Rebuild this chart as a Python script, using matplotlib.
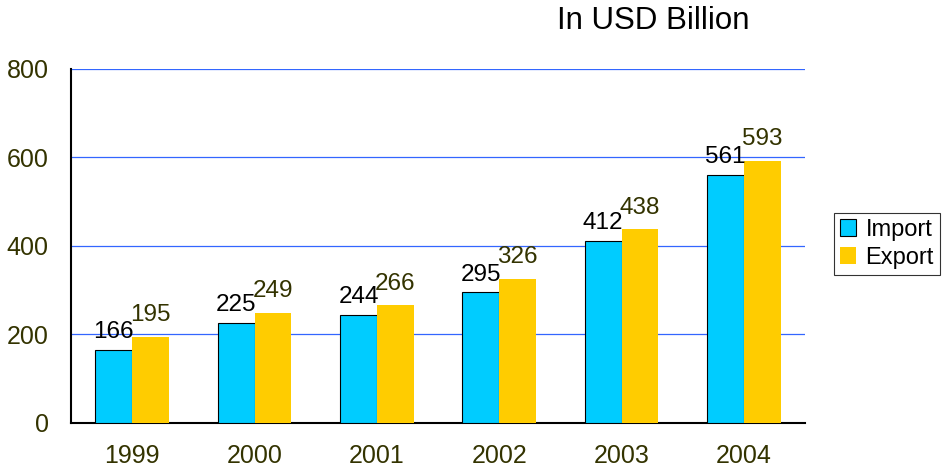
import numpy as np
import matplotlib.pyplot as plt

plt.rcParams['font.family'] = ['Liberation Sans', 'DejaVu Sans']

years = ['1999', '2000', '2001', '2002', '2003', '2004']
imports = [166, 225, 244, 295, 412, 561]
exports = [195, 249, 266, 326, 438, 593]

olive = '#333300'
fig = plt.figure(figsize=(9.43, 4.70), dpi=100)
ax = fig.add_axes([0.0753, 0.1, 0.7784, 0.7532])

x = np.arange(len(years))
w = 0.3
ax.bar(x - w/2, imports, w, color='#00ccff', edgecolor='black', linewidth=0.8, label='Import', zorder=3)
ax.bar(x + w/2, exports, w, color='#ffcc00', label='Export', zorder=3)

for i in range(len(years)):
    ax.annotate(str(imports[i]), (x[i] - w/2, imports[i]), xytext=(0, 5), textcoords='offset points',
                ha='center', va='bottom', fontsize=17.5, color='black', zorder=4)
    ax.annotate(str(exports[i]), (x[i] + w/2, exports[i]), xytext=(0, 7.5), textcoords='offset points',
                ha='center', va='bottom', fontsize=17.5, color=olive, zorder=4)

ax.set_xlim(-0.5, 5.5)
ax.set_ylim(0, 800)
ax.set_yticks([0, 200, 400, 600, 800])
ax.set_xticks(x)
ax.set_xticklabels(years)
ax.tick_params(axis='both', length=0, labelsize=18, labelcolor=olive)
ax.tick_params(axis='x', pad=15)
ax.tick_params(axis='y', pad=16)
ax.yaxis.grid(True, color='#3366ff', linewidth=0.9, zorder=0)
for s in ['top', 'right']:
    ax.spines[s].set_visible(False)
ax.spines['left'].set_linewidth(1.5)
ax.spines['bottom'].set_linewidth(1.5)

fig.text(0.591, 0.955, 'In USD Billion', fontsize=22.5, color='black', ha='left', va='center')

leg = fig.legend(loc='center left', bbox_to_anchor=(0.884, 0.481), fontsize=17, frameon=True,
                 fancybox=False, edgecolor='black', handlelength=0.7, handleheight=0.7,
                 handletextpad=0.4, borderpad=0.25, labelspacing=0.25, borderaxespad=0)
leg.get_frame().set_linewidth(0.8)

fig.savefig('out.png', dpi=100)
